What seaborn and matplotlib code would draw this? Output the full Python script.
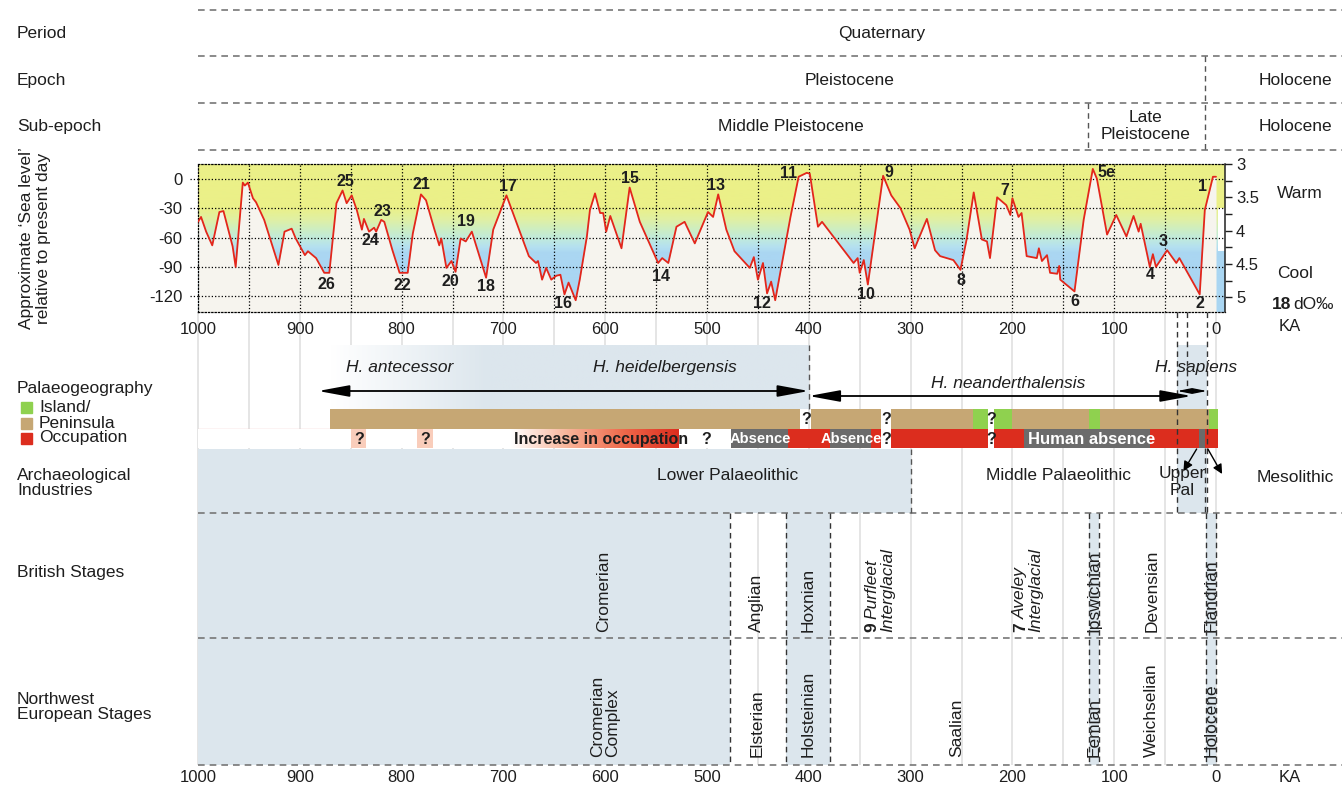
import numpy as np
import matplotlib
matplotlib.use('Agg')
import matplotlib.pyplot as plt
import seaborn as sns
from matplotlib.colors import LinearSegmentedColormap
from matplotlib.patches import Rectangle, ArrowStyle

# ---------------------------------------------------------------
# datos
# ---------------------------------------------------------------
# nivel del mar aproximado (m) frente a edad (ka)
sl_ka = [1000, 997, 992, 986, 979, 975, 966, 963, 956, 954,
         951, 946, 943, 935, 921, 915, 908, 904, 895, 892,
         884, 876, 871, 864, 858, 854, 849, 844, 839, 837,
         832, 827, 825, 820, 817, 809, 802, 794, 789, 781,
         776, 768, 763, 761, 756, 751, 747, 742, 737, 731,
         717, 710, 697, 675, 668, 666, 662, 658, 653, 648,
         644, 640, 636, 629, 625, 618, 615, 610, 605, 602,
         599, 595, 584, 576, 566, 548, 544, 538, 530, 522,
         512, 499, 494, 489, 481, 473, 458, 454, 450, 445,
         441, 437, 433, 418, 410, 402, 399, 391, 387, 356,
         352, 350, 346, 342, 327, 319, 310, 301, 296, 284,
         276, 271, 258, 251, 245, 238, 230, 225, 222, 215,
         206, 202, 200, 194, 191, 186, 176, 174, 171, 166,
         163, 156, 154, 153, 139, 130, 121, 117, 107, 98,
         88, 81, 76, 74, 65, 62, 59, 48, 39, 36,
         16, 11, 3, 0]
sl_m = [-44, -39, -54, -68, -34, -33, -69, -90, -4, -7,
        -4, -20, -24, -42, -88, -54, -51, -61, -78, -74,
        -81, -96, -96, -25, -12, -25, -17, -32, -52, -41,
        -54, -50, -54, -42, -44, -73, -96, -96, -56, -16,
        -22, -51, -68, -61, -91, -84, -95, -61, -64, -54,
        -101, -52, -17, -79, -86, -84, -103, -91, -103, -99,
        -98, -118, -106, -124, -103, -59, -32, -15, -35, -35,
        -54, -38, -71, -9, -44, -86, -81, -86, -49, -44,
        -66, -34, -39, -16, -52, -74, -91, -80, -103, -86,
        -117, -105, -124, -39, 2, 6, 5, -49, -44, -86,
        -81, -96, -83, -108, 3, -17, -30, -52, -71, -41,
        -73, -79, -83, -93, -62, -14, -62, -64, -81, -19,
        -27, -37, -20, -39, -35, -79, -81, -71, -84, -78,
        -96, -97, -89, -103, -115, -42, 10, 0, -57, -37,
        -59, -38, -54, -46, -90, -77, -90, -73, -86, -81,
        -118, -32, 2, 2]

# estadios isotopicos marinos (etiqueta, ka, m)
mis_lab = ['26', '25', '24', '23', '22', '21', '20', '19', '18', '17', '16',
           '15', '14', '13', '12', '11', '10', '9', '8', '7', '6', '5e',
           '4', '3', '2', '1']
mis_ka = [874, 855, 831, 819, 799, 781, 752, 737, 717, 696, 641,
          576, 545, 491, 446, 420, 344, 321, 251, 207, 139, 108,
          65, 52, 16, 13]
mis_m = [-108, -3, -63, -33, -109, -6, -105, -44, -110, -8, -127,
         0, -100, -7, -127, 5, -118, 6, -104, -12, -125, 6,
         -98, -64, -127, -8]

sl_ticks = [0, -30, -60, -90, -120]
d18o_ticks = [3, 3.5, 4, 4.5, 5]
d18o_labels = ['3', '3.5', '4', '4.5', '5']
ka_ticks = [1000, 900, 800, 700, 600, 500, 400, 300, 200, 100, 0]

# paleogeografia: isla / peninsula
geo_start = [870, 398, 319, 239, 218, 200, 125, 114, 7]
geo_end = [409, 329, 239, 224, 200, 125, 114, 7, -2]
geo_kind = ['pen', 'pen', 'pen', 'isl', 'isl', 'pen', 'isl', 'pen', 'isl']

# ocupacion humana
occ_start = [476, 420, 379, 339, 319, 218, 189, 65, 17, 11]
occ_end = [420, 379, 339, 329, 224, 189, 65, 17, 11, -2]
occ_kind = ['abs', 'occ', 'abs', 'occ', 'occ', 'occ', 'abs', 'occ', 'abs', 'occ']
occ_text = ['Absence', 'Absence', 'Human absence']
occ_text_ka = [448, 358, 122]
doubt_ka = [842, 777]          # cajas rosas con '?'
increase_ka = [693, 528]       # degradado "Increase in occupation"

# estadios britanicos / noroeste de Europa (inicio, fin, interglaciar?)
stage_start = [1000, 477, 422, 379, 125, 115, 10]
stage_end = [477, 422, 379, 125, 115, 10, 0]
stage_warm = [True, False, True, False, True, False, True]
brit_names = ['Cromerian', 'Anglian', 'Hoxnian', 'Ipswichian', 'Devensian', 'Flandrian']
brit_ka = [602, 451, 401, 120, 63, 5]
nw_names = ['Cromerian\nComplex', 'Elsterian', 'Holsteinian', 'Saalian', 'Eemian',
            'Weichselian', 'Holocene']
nw_ka = [600, 451, 401, 255, 120, 63, 5]

# ---------------------------------------------------------------
# colores
# ---------------------------------------------------------------
RED = '#dc2d1e'
TAN = '#c6a774'
GREEN = '#8fd14f'
GREY = '#6b6b6b'
PALE = '#dce6ed'
PINK = '#f9cdbb'
CREAM = '#f6f4ee'
TXT = '#1e1e1e'

sns.set_style('white')
plt.rcParams['font.family'] = ['Liberation Sans', 'DejaVu Sans']
plt.rcParams['font.size'] = 12.5

W, H = 1342, 788
X0, X1 = 198, 1216          # px de 1000 ka y 0 ka
PXK = (X1 - X0) / 1000.0


def fx(px):
    return px / W


def fy(py):
    return 1 - py / H


fig = plt.figure(figsize=(W / 100, H / 100), dpi=100)

# eje de fondo: x en ka, y en pixeles desde arriba
ax = fig.add_axes([0, 0, 1, 1])
xl = (1000 + X0 / PXK, -(W - X1) / PXK)


def span(k0, k1, y0, y1, color, z=1):
    ax.barh((y0 + y1) / 2, k0 - k1, left=k1, height=y1 - y0, color=color,
            lw=0, zorder=z)


# lineas grises verticales cada 50 ka
ax.vlines(np.arange(0, 1001, 50), 312, 765, colors='#e0e0e0', lw=1.2, zorder=0)

# separadores discontinuos
ax.hlines([10, 56, 103, 150, 513, 638, 765], 1000, xl[1], colors='#777777',
          linestyles=(0, (4, 3)), lw=1.2, zorder=6)
ax.vlines(11, 56, 150, colors='#555555', linestyles=(0, (4, 3)), lw=1, zorder=6)
ax.vlines(126, 103, 150, colors='#555555', linestyles=(0, (4, 3)), lw=1, zorder=6)

# textos de periodo / epoca / sub-epoca
ax.text(328, 33, 'Quaternary', ha='center', va='center', color=TXT)
ax.text(360, 80, 'Pleistocene', ha='center', va='center', color=TXT)
ax.text(-78, 80, 'Holocene', ha='center', va='center', color=TXT)
ax.text(418, 126, 'Middle Pleistocene', ha='center', va='center', color=TXT)
ax.text(69, 126, 'Late\nPleistocene', ha='center', va='center', color=TXT,
        linespacing=1.15)
ax.text(-78, 126, 'Holocene', ha='center', va='center', color=TXT)

# fondo azul de H. heidelbergensis con degradado
cm_h = LinearSegmentedColormap.from_list('hb', ['#ffffff', PALE])
grad_ka = np.linspace(870, 400, 400)
ax.imshow(np.clip((870 - grad_ka) / 155, 0, 1)[None, :], cmap=cm_h, vmin=0, vmax=1,
          extent=(870, 400, 409, 345), aspect='auto', zorder=1)
ax.vlines(400, 345, 409, colors='#555555', linestyles=(0, (4, 3)), lw=1, zorder=6)

# H. sapiens
span(38, 9, 345, 513, PALE, 1)
ax.vlines([38, 9], 312, 513, colors='#333333', linestyles=(0, (4, 3)), lw=1, zorder=6)
ax.vlines(28, 312, 391, colors='#333333', linestyles=(0, (4, 3)), lw=1, zorder=6)
ax.vlines(11, 448, 513, colors='#333333', linestyles=(0, (4, 3)), lw=1, zorder=6)

# Paleolitico inferior
span(1000, 300, 449, 513, PALE, 1)
ax.vlines(300, 449, 513, colors='#555555', linestyles=(0, (4, 3)), lw=1, zorder=6)

# especies
ax.text(802, 367, 'H. antecessor', ha='center', va='center', style='italic', color=TXT)
ax.text(541, 367, 'H. heidelbergensis', ha='center', va='center', style='italic', color=TXT)
ax.text(204, 383, 'H. neanderthalensis', ha='center', va='center', style='italic', color=TXT)
ax.text(20, 367, 'H. sapiens', ha='center', va='center', style='italic', color=TXT)

big = ArrowStyle('<|-|>', head_length=1.9, head_width=0.35)
small = ArrowStyle('<|-|>', head_length=0.9, head_width=0.18)
ax.annotate('', xy=(882, 391), xytext=(400, 391),
            arrowprops=dict(arrowstyle=big, mutation_scale=10, color='k', lw=1.3,
                            shrinkA=0, shrinkB=0), zorder=7)
ax.annotate('', xy=(400, 396), xytext=(24, 396),
            arrowprops=dict(arrowstyle=big, mutation_scale=10, color='k', lw=1.3,
                            shrinkA=0, shrinkB=0), zorder=7)
ax.annotate('', xy=(38, 391), xytext=(9, 391),
            arrowprops=dict(arrowstyle=small, mutation_scale=9, color='k', lw=0.9,
                            shrinkA=0, shrinkB=0), zorder=7)

# barra de paleogeografia
ax.hlines(428.5, 1000, 870, colors='#f3c4c4', lw=1, zorder=2)
for s, e, k in zip(geo_start, geo_end, geo_kind):
    span(s, e, 409, 428.5, TAN if k == 'pen' else GREEN, 3)

# barra de ocupacion
span(1000, -2, 429, 448, 'white', 2)
for s, e, k in zip(occ_start, occ_end, occ_kind):
    span(s, e, 429, 448, RED if k == 'occ' else GREY, 3)
for t, k in zip(occ_text, occ_text_ka):
    ax.text(k, 439, t, ha='center', va='center', color='white', weight='bold',
            fontsize=12 if t.startswith('Human') else 10.5, zorder=5)
for k in doubt_ka:
    span(k + 7.5, k - 7.5, 429, 448, PINK, 3)
    ax.text(k, 439, '?', ha='center', va='center', weight='bold', color=TXT,
            fontsize=11.5, zorder=5)
cm_o = LinearSegmentedColormap.from_list('occ', ['#ffffff', '#f8b59a', '#ef6a4c', RED])
inc_ka = np.linspace(increase_ka[0], increase_ka[1], 300)
ax.imshow(((increase_ka[0] - inc_ka) / (increase_ka[0] - increase_ka[1]))[None, :],
          cmap=cm_o, vmin=0, vmax=1, extent=(increase_ka[0], increase_ka[1], 448, 429),
          aspect='auto', zorder=3)
ax.text(690, 439, 'Increase in occupation', ha='left', va='center', weight='bold',
        color=TXT, fontsize=11.5, zorder=5)
for k, y in [(501, 439), (403, 419), (324, 419), (324, 439), (221, 419), (221, 439)]:
    ax.text(k, y, '?', ha='center', va='center', weight='bold', color=TXT,
            fontsize=11.5, zorder=5)

# industrias arqueologicas
ax.text(480, 475, 'Lower Palaeolithic', ha='center', va='center', color=TXT)
ax.text(155, 475, 'Middle Palaeolithic', ha='center', va='center', color=TXT)
ax.text(33, 482, 'Upper\nPal', ha='center', va='center', color=TXT, linespacing=1.1)
ax.text(-78, 477, 'Mesolithic', ha='center', va='center', color=TXT)
ax.annotate('', xy=(32, 471), xytext=(19, 449),
            arrowprops=dict(arrowstyle='-|>', mutation_scale=14, color='k', lw=1,
                            shrinkA=0, shrinkB=0), zorder=7)
ax.annotate('', xy=(-6, 474), xytext=(8, 449),
            arrowprops=dict(arrowstyle='-|>', mutation_scale=14, color='k', lw=1,
                            shrinkA=0, shrinkB=0), zorder=7)

# estadios
for s, e, w in zip(stage_start, stage_end, stage_warm):
    if w:
        span(s, e, 513, 765, PALE, 1)
ax.vlines([477, 422, 379, 125, 115, 10, 0], 513, 765, colors='#333333',
          linestyles=(0, (4, 3)), lw=1, zorder=6)
for t, k in zip(brit_names, brit_ka):
    ax.text(k, 632, t, rotation=90, ha='center', va='bottom', color=TXT, zorder=5)
for t, k in zip(nw_names, nw_ka):
    ax.text(k, 757, t, rotation=90, ha='center', va='bottom', color=TXT,
            multialignment='left', linespacing=1.0, zorder=5)
for num, name, k1, k2 in [('9', 'Purfleet', 338, 322), ('7', 'Aveley', 192, 177)]:
    ax.text(k1, 632, num, rotation=90, ha='center', va='bottom', weight='bold',
            color=TXT, zorder=5)
    ax.text(k1, 619, name, rotation=90, ha='center', va='bottom', style='italic',
            color=TXT, zorder=5)
    ax.text(k2, 632, 'Interglacial', rotation=90, ha='center', va='bottom',
            style='italic', color=TXT, zorder=5)

# eje inferior
for k in ka_ticks:
    ax.text(k, 777, str(k), ha='center', va='center', fontsize=12, color=TXT)
ax.text(-72, 777, 'KA', ha='center', va='center', fontsize=12, color=TXT)

ax.set_xlim(*xl)
ax.set_ylim(H, 0)
ax.axis('off')

# etiquetas de la izquierda
for t, y in [('Period', 33), ('Epoch', 80), ('Sub-epoch', 126), ('Palaeogeography', 388),
             ('British Stages', 573)]:
    fig.text(fx(17), fy(y), t, ha='left', va='center', color=TXT)
fig.text(fx(17), fy(483), 'Archaeological\nIndustries', ha='left', va='center',
         color=TXT, linespacing=1.05)
fig.text(fx(17), fy(707), 'Northwest\nEuropean Stages', ha='left', va='center',
         color=TXT, linespacing=1.05)
fig.text(fx(35), fy(238), 'Approximate \u2018Sea level\u2019\nrelative to present day',
         rotation=90, ha='center', va='center', color=TXT, linespacing=1.2)
for t, c, y in [('Island/', GREEN, 407), ('Peninsula', TAN, 423), ('Occupation', RED, 438)]:
    fig.add_artist(Rectangle((fx(21), fy(y + 5.5)), 11 / W, 11 / H, color=c,
                             transform=fig.transFigure))
    fig.text(fx(39), fy(y), t, ha='left', va='center', color=TXT)

# ---------------------------------------------------------------
# curva del nivel del mar
# ---------------------------------------------------------------
ka_right = -(1225 - X1) / PXK
ax_sl = fig.add_axes([fx(X0), fy(312), (1225 - X0) / W, (312 - 164) / H])
ax_sl.set_zorder(3)
cm_sl = LinearSegmentedColormap.from_list('sl', [
    (0.0, '#ebf088'), (0.298, '#ebf088'), (0.38, '#e0f0a4'), (0.445, '#cdeec2'),
    (0.51, '#c0eade'), (0.565, '#b4e0f0'), (0.605, '#aad6f2'), (1.0, '#aad6f2')])
ax_sl.imshow(np.linspace(0, 1, 300)[:, None], cmap=cm_sl, vmin=0, vmax=1,
             extent=(1000, ka_right, -136, 15), aspect='auto', zorder=0)
ax_sl.fill_between([-1.5, ka_right], -74, -30, color='white', lw=0, zorder=0.5)
ax_sl.fill_between(sl_ka, sl_m, -136, color=CREAM, lw=0, zorder=1)
for k in range(950, 0, -50):
    ax_sl.axvline(k, color='k', ls=':', lw=0.9, zorder=2)
for v in sl_ticks:
    ax_sl.axhline(v, color='k', ls=':', lw=0.9, zorder=2)
    ax_sl.plot([1008, 1000], [v, v], color='k', ls=':', lw=0.9, clip_on=False)
sns.lineplot(x=sl_ka, y=sl_m, ax=ax_sl, color='#e3261b', lw=1.3, estimator=None,
             zorder=4)
for t, k, m in zip(mis_lab, mis_ka, mis_m):
    ax_sl.text(k, m, t, ha='center', va='center', weight='bold', fontsize=11.5,
               color=TXT, zorder=5)

ax_sl.set_xlim(1000, ka_right)
ax_sl.set_ylim(-136, 15)
ax_sl.set_xticks(ka_ticks)
ax_sl.set_xticklabels([str(k) for k in ka_ticks])
ax_sl.set_yticks(sl_ticks)
ax_sl.set_yticklabels([str(v) for v in sl_ticks])
ax_sl.tick_params(axis='x', length=0, pad=7, labelsize=12, colors=TXT)
ax_sl.tick_params(axis='y', length=0, pad=11, labelsize=12, colors=TXT)
ax_sl.set_xlabel('')
ax_sl.set_ylabel('')
for s in ['top', 'bottom', 'left']:
    ax_sl.spines[s].set_linestyle(':')
    ax_sl.spines[s].set_linewidth(0.9)
    ax_sl.spines[s].set_color('k')
ax_sl.spines['right'].set_visible(False)

ax_r = ax_sl.twinx()
ax_r.set_ylim(5.22, 3.0)
ax_r.set_yticks(d18o_ticks)
ax_r.set_yticklabels(d18o_labels)
ax_r.set_yticks(np.arange(3.25, 5.2, 0.5), minor=True)
ax_r.tick_params(axis='y', which='both', direction='out', length=5, width=1,
                 labelsize=12, colors=TXT, pad=3, right=True)
for s in ['top', 'bottom', 'left']:
    ax_r.spines[s].set_visible(False)
ax_r.spines['right'].set_color('#222222')
ax_r.spines['right'].set_linewidth(1.1)

fig.text(fx(1277), fy(193), 'Warm', ha='left', va='center', color=TXT)
fig.text(fx(1277), fy(274), 'Cool', ha='left', va='center', color=TXT)
fig.text(fx(1272), fy(304), '18', ha='left', va='center', weight='bold', color=TXT)
fig.text(fx(1293), fy(304), 'dO\u2030', ha='left', va='center', color=TXT)
fig.text(fx(1290), fy(326), 'KA', ha='center', va='center', fontsize=12, color=TXT)

fig.savefig('out.png', dpi=100)
